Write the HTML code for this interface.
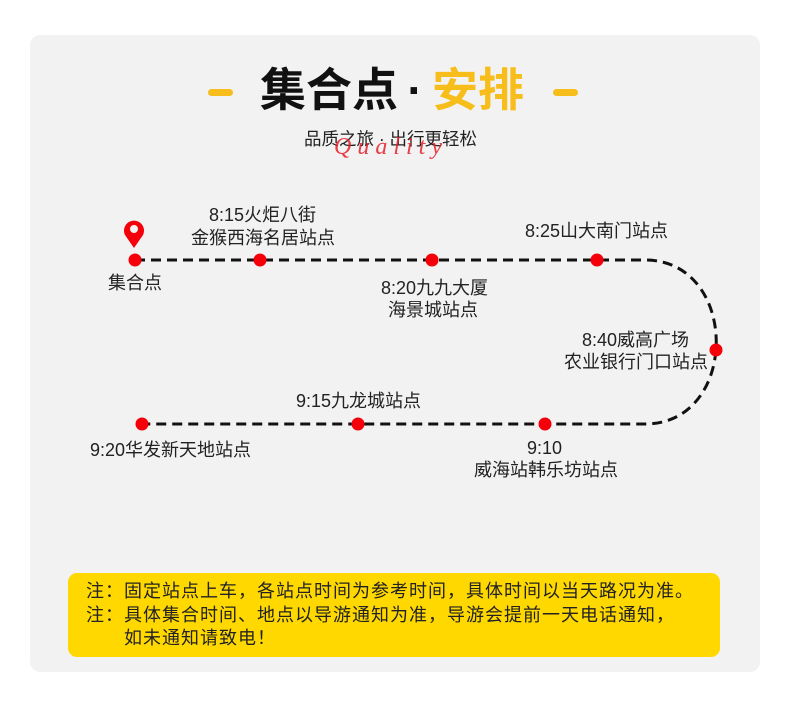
<!DOCTYPE html>
<html><head><meta charset="utf-8"><style>
body{margin:0;background:#fff;width:790px;height:723px;position:relative;overflow:hidden;font-family:"Liberation Sans","Noto Sans CJK SC",sans-serif;}
.card{position:absolute;left:30px;top:35px;width:730px;height:637px;background:#f2f2f2;border-radius:10px;}
.t{position:absolute;color:#222;font-size:18px;line-height:23px;white-space:nowrap;}
.note{position:absolute;left:68px;top:573px;width:652px;height:84px;background:#ffd800;border-radius:9px;}
</style></head><body>
<div class="card"></div>
<div style="position:absolute;left:208px;top:89px;width:25px;height:7px;background:#f7bd1a;border-radius:4px"></div>
<div style="position:absolute;left:553px;top:89px;width:25px;height:7px;background:#f7bd1a;border-radius:4px"></div>
<div style="position:absolute;left:260px;top:60px;font-size:46px;font-weight:bold;line-height:60px;white-space:nowrap;color:#111">集合点<span style="display:inline-block;width:34px;text-align:center">·</span><span style="color:#f7bd1a">安排</span></div>
<div class="t" style="left:304px;top:128px;font-size:17.5px;">品质之旅 · 出行更轻松</div>
<div style="position:absolute;left:334px;top:134px;font-family:'Liberation Serif',serif;font-style:italic;color:#e4202a;font-size:24px;letter-spacing:6px;opacity:.85">Quality</div>
<svg width="790" height="723" style="position:absolute;left:0;top:0">
<path d="M135,260 H645 C740,260 740,424 645,424 H142" fill="none" stroke="#111" stroke-width="3" stroke-dasharray="10,6"/>
<g fill="#f5000a">
<circle cx="135" cy="260" r="6.5"/><circle cx="260" cy="260" r="6.5"/><circle cx="432" cy="260" r="6.5"/><circle cx="597" cy="260" r="6.5"/><circle cx="716" cy="350" r="6.5"/><circle cx="545" cy="424" r="6.5"/><circle cx="358" cy="424" r="6.5"/><circle cx="142" cy="424" r="6.5"/>
<path d="M134,248 L125,235 A10,10 0 1 1 143,235 Z"/>
</g>
<circle cx="134" cy="229" r="4" fill="#f2f2f2"/>
</svg>
<div class="t" style="left:108px;top:272px">集合点</div>
<div class="t" style="left:209px;top:204px">8:15火炬八街</div>
<div class="t" style="left:191px;top:227px">金猴西海名居站点</div>
<div class="t" style="left:381px;top:277px">8:20九九大厦</div>
<div class="t" style="left:388px;top:299px">海景城站点</div>
<div class="t" style="left:525px;top:220px">8:25山大南门站点</div>
<div class="t" style="left:582px;top:329px">8:40威高广场</div>
<div class="t" style="left:564px;top:351px">农业银行门口站点</div>
<div class="t" style="left:296px;top:390px">9:15九龙城站点</div>
<div class="t" style="left:527px;top:437px">9:10</div>
<div class="t" style="left:474px;top:459px">威海站韩乐坊站点</div>
<div class="t" style="left:90px;top:439px">9:20华发新天地站点</div>
<div class="note"></div>
<div class="t" style="left:86px;top:580px;line-height:23.5px;font-size:18px;letter-spacing:1px">注：固定站点上车，各站点时间为参考时间，具体时间以当天路况为准。<br>注：具体集合时间、地点以导游通知为准，导游会提前一天电话通知，<br>&emsp;&emsp;如未通知请致电！</div>
</body></html>
